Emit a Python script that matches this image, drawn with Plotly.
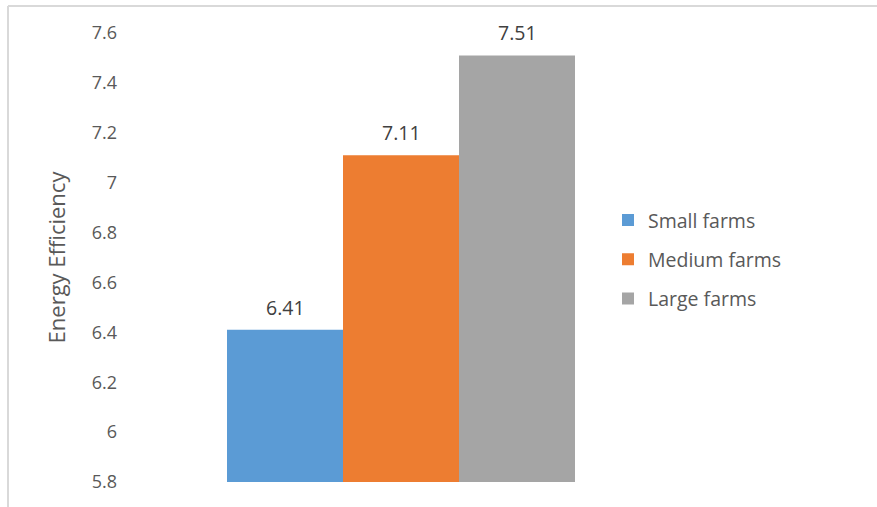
import plotly.graph_objects as go

# Energy efficiency by farm size
farm_sizes = ["Small farms", "Medium farms", "Large farms"]
efficiency = [6.41, 7.11, 7.51]
bar_colors = ["#5B9BD5", "#ED7D31", "#A5A5A5"]
y_ticks = [5.8, 6.0, 6.2, 6.4, 6.6, 6.8, 7.0, 7.2, 7.4, 7.6]
y_tick_text = ["5.8", "6", "6.2", "6.4", "6.6", "6.8", "7", "7.2", "7.4", "7.6"]

FONT = "Open Sans"
TICK_FS = 18
LABEL_FS = 19.5
TITLE_FS = 22
TEXT_COLOR = "#595959"

W, H = 877, 507
L, R, T, B = 120, 195, 33, 25
plot_w = W - L - R
plot_h = H - T - B

fig = go.Figure()
for name, val, col in zip(farm_sizes, efficiency, bar_colors):
    fig.add_trace(go.Bar(
        x=["Farms"], y=[val], name=name, marker=dict(color=col, line=dict(width=0)),
        legendgroup=name,
    ))

# value labels above each bar
for i, val in enumerate(efficiency):
    fig.add_annotation(
        x="Farms", y=val, text=f"{val:.2f}", showarrow=False,
        xref="x", yref="y", yanchor="bottom", yshift=7,
        xshift=(i - 1) * 116,
        font=dict(family=FONT, size=LABEL_FS, color="#404040"),
    )

# light chart-area border (top and left edges)
bx = (8 - L) / plot_w
by = (H - B - 6) / plot_h
fig.add_shape(type="line", xref="paper", yref="paper", x0=bx, x1=2, y0=by, y1=by,
              line=dict(color="#D9D9D9", width=2))
fig.add_shape(type="line", xref="paper", yref="paper", x0=bx, x1=bx, y0=by, y1=-1,
              line=dict(color="#D9D9D9", width=2))

fig.update_layout(
    width=W, height=H,
    margin=dict(l=L, r=R, t=T, b=B, autoexpand=False),
    paper_bgcolor="white", plot_bgcolor="white",
    barmode="group", bargap=(plot_w - 348) / plot_w, bargroupgap=0,
    font=dict(family=FONT, size=TICK_FS, color=TEXT_COLOR),
    showlegend=True,
    legend=dict(
        x=(608 - L) / plot_w, xanchor="left", y=0.495, yanchor="middle",
        font=dict(family=FONT, size=LABEL_FS, color=TEXT_COLOR),
        tracegroupgap=11, bgcolor="rgba(0,0,0,0)",
    ),
    xaxis=dict(showticklabels=False, showgrid=False, zeroline=False, showline=False),
    yaxis=dict(
        range=[5.8, 7.6], tickvals=y_ticks, ticktext=y_tick_text,
        tickfont=dict(family=FONT, size=TICK_FS, color=TEXT_COLOR),
        showgrid=False, zeroline=False, showline=False, ticks="",
        ticklabelstandoff=2,
        title=dict(text="Energy Efficiency", standoff=19,
                   font=dict(family=FONT, size=TITLE_FS, color=TEXT_COLOR)),
    ),
)

fig.write_html("out.html")
